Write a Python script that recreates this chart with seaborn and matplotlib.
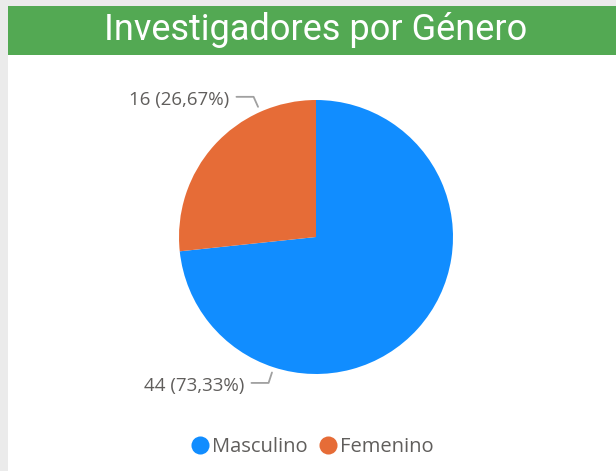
import numpy as np
import matplotlib
matplotlib.use("Agg")
import matplotlib.pyplot as plt
import seaborn as sns
from matplotlib.patches import Rectangle
from matplotlib.lines import Line2D

sns.set_theme(style="white")
plt.rcParams["font.family"] = ["Open Sans", "DejaVu Sans"]

# data
categories = ["Masculino", "Femenino"]
counts = [44, 16]
colors = ["#118DFF", "#E66C37"]
label_angles = [252, 114]  # where the leader lines touch each slice

W, H = 616, 471
fig = plt.figure(figsize=(W / 100, H / 100), dpi=100)
fig.patch.set_facecolor("#EBEBEB")

# white panel + green title band
fig.add_artist(Rectangle((8 / W, 0), 1, 1 - 6 / H, transform=fig.transFigure,
                         facecolor="white", edgecolor="none", zorder=0))
fig.add_artist(Rectangle((8 / W, 1 - 55 / H), 1, 49 / H, transform=fig.transFigure,
                         facecolor="#53A953", edgecolor="none", zorder=1))
fig.text(316 / W, 1 - 30 / H, "Investigadores por Género", color="white",
         fontsize=26, ha="center", va="center", fontweight="normal",
         family=["Roboto", "DejaVu Sans"])

# pie axes: center (316, 237), radius 137 px
cx, cy, r = 316, 237, 137
ax = fig.add_axes([(cx - r) / W, (H - cy - r) / H, 2 * r / W, 2 * r / H])

total = sum(counts)
ax.pie(counts, colors=colors, startangle=90, counterclock=False, radius=1,
       wedgeprops=dict(linewidth=0))
ax.set_xlim(-1, 1)
ax.set_ylim(-1, 1)
ax.axis("off")

text_color = "#605E5C"
for val, ang in zip(counts, label_angles):
    a = np.deg2rad(ang)
    p0 = (1.04 * np.cos(a), 1.04 * np.sin(a))
    p1 = (1.12 * np.cos(a), 1.12 * np.sin(a))
    side = -1 if np.cos(a) < 0 else 1
    p2 = (p1[0] + side * 0.125, p1[1])
    ax.add_line(Line2D([p0[0], p1[0], p2[0]], [p0[1], p1[1], p2[1]],
                       color="#A0A0A0", linewidth=1.3, clip_on=False))
    pct = f"{100 * val / total:.2f}".replace(".", ",")
    ax.text(p2[0] + side * 0.055, p2[1] - 0.02, f"{val} ({pct}%)", color=text_color,
            fontsize=13.5, ha="right" if side < 0 else "left", va="center",
            clip_on=False)

handles = [Line2D([], [], marker="o", linestyle="", markersize=13,
                  markerfacecolor=c, markeredgecolor="none") for c in colors]
fig.legend(handles, categories, loc="center", bbox_to_anchor=(311 / W, 1 - 447 / H),
           ncol=2, frameon=False, fontsize=14.5, labelcolor=text_color,
           handletextpad=0.0, columnspacing=0.4, handlelength=1.2)

fig.savefig("out.png", dpi=100, facecolor=fig.get_facecolor())
